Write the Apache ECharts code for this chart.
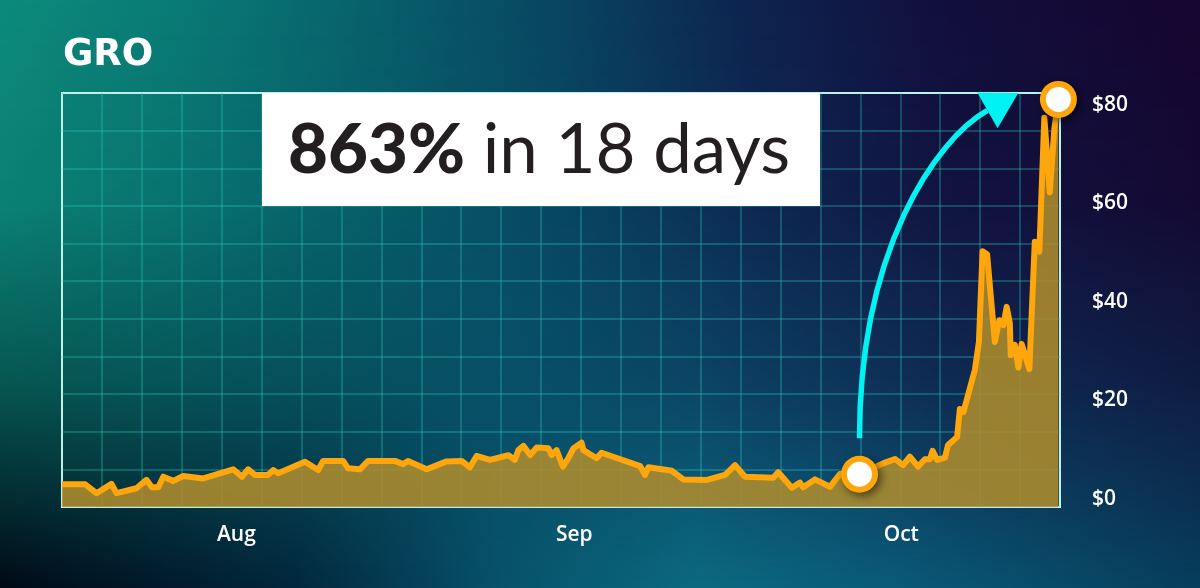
<!DOCTYPE html>
<html>
<head>
<meta charset="utf-8">
<script src="https://cdn.jsdelivr.net/npm/echarts@6/dist/echarts.min.js"></script>
<style>
  html, body { margin: 0; padding: 0; }
  #wrap { position: relative; width: 1200px; height: 588px; overflow: hidden; }
  #bg1, #bg2, #chart { position: absolute; left: 0; top: 0; width: 1200px; height: 588px; }
  #bg1 {
    background: linear-gradient(to right, #010a16 0%, #03283e 25%, #07536c 42%, #0b6a80 58%, #0a5a78 75%, #073e5c 100%);
  }
  #bg2 {
    background: linear-gradient(to right, #0b8b7b 0%, #097a75 15%, #07626c 30%, #084460 47%, #0d2450 62%, #120f3c 78%, #150530 100%);
    -webkit-mask-image: linear-gradient(to bottom, #000 0%, rgba(0,0,0,0.92) 35%, rgba(0,0,0,0.6) 65%, rgba(0,0,0,0) 100%);
    mask-image: linear-gradient(to bottom, #000 0%, rgba(0,0,0,0.92) 35%, rgba(0,0,0,0.6) 65%, rgba(0,0,0,0) 100%);
  }
</style>
</head>
<body>
<div id="wrap">
  <div id="bg1"></div>
  <div id="bg2"></div>
  <div id="chart"></div>
</div>
<script>
// ---- data ----
const dates = [
  '2021-07-16 00:00','2021-07-18 03:00','2021-07-19 04:00','2021-07-20 13:00','2021-07-21 00:00',
  '2021-07-22 20:00','2021-07-23 18:00','2021-07-24 06:00','2021-07-24 20:00','2021-07-25 07:00',
  '2021-07-26 05:00','2021-07-27 03:00','2021-07-28 23:00','2021-07-31 17:00','2021-08-01 12:00',
  '2021-08-02 02:00','2021-08-02 17:00','2021-08-03 22:00','2021-08-04 09:00','2021-08-04 20:00',
  '2021-08-07 07:00','2021-08-08 12:00','2021-08-08 23:00','2021-08-10 19:00','2021-08-11 06:00',
  '2021-08-12 08:00','2021-08-13 02:00','2021-08-15 13:00','2021-08-16 07:00','2021-08-16 18:00',
  '2021-08-18 11:00','2021-08-20 07:00','2021-08-21 16:00','2021-08-22 10:00','2021-08-23 01:00',
  '2021-08-24 06:00','2021-08-25 23:00','2021-08-26 13:00','2021-08-26 21:00','2021-08-27 08:00',
  '2021-08-27 23:00','2021-08-28 13:00','2021-08-29 15:00','2021-08-29 22:00','2021-08-30 09:00',
  '2021-08-30 23:00','2021-08-31 11:00','2021-08-31 22:00','2021-09-01 16:00','2021-09-01 20:00',
  '2021-09-03 01:00','2021-09-03 12:00','2021-09-07 01:00','2021-09-07 12:00','2021-09-07 19:00',
  '2021-09-09 23:00','2021-09-11 00:00','2021-09-13 04:00','2021-09-14 20:00','2021-09-15 18:00',
  '2021-09-16 16:00','2021-09-19 06:00','2021-09-19 17:00','2021-09-20 23:00','2021-09-21 17:00',
  '2021-09-22 00:00','2021-09-23 02:00','2021-09-24 11:00','2021-09-25 09:00','2021-09-27 04:00',
  '2021-09-29 08:00','2021-09-30 10:00','2021-10-01 04:00','2021-10-01 19:00','2021-10-02 13:00',
  '2021-10-03 04:00','2021-10-03 15:00','2021-10-03 21:00','2021-10-04 07:00','2021-10-05 00:00',
  '2021-10-05 07:00','2021-10-06 03:00','2021-10-06 09:00','2021-10-06 17:00','2021-10-07 18:00',
  '2021-10-08 03:00','2021-10-08 11:00','2021-10-08 21:00','2021-10-09 14:00','2021-10-10 00:00',
  '2021-10-10 09:00','2021-10-10 16:00','2021-10-10 23:00','2021-10-11 01:00','2021-10-11 10:00',
  '2021-10-11 18:00','2021-10-12 01:00','2021-10-12 18:00','2021-10-13 06:00','2021-10-13 16:00',
  '2021-10-14 03:00','2021-10-14 15:00','2021-10-15 01:00','2021-10-15 10:00'
];
const prices = [
  4.6, 4.6, 2.8, 4.7, 2.8,
  3.8, 5.5, 4.0, 4.0, 6.15,
  5.3, 6.3, 5.8, 7.65, 6.15,
  7.65, 6.5, 6.5, 7.5, 6.85,
  9.2, 7.5, 9.35, 9.35, 7.85,
  7.65, 9.35, 9.35, 8.7, 9.35,
  7.65, 9.25, 9.35, 8.05, 10.35,
  9.55, 10.5, 9.55, 11.55, 12.4,
  10.55, 12.05, 11.9, 10.55, 11.55,
  8.2, 9.9, 11.9, 13.05, 11.55,
  9.9, 11.0, 8.3, 6.5, 8.05,
  7.35, 5.6, 5.5, 6.5, 8.5,
  6.15, 5.95, 7.05, 3.9, 4.95,
  4.0, 5.6, 4.1, 6.7, 6.65,
  8.85, 9.75, 8.5, 10.2, 8.2,
  9.7, 9.7, 11.4, 9.55, 10.0,
  12.6, 14.2, 19.9, 19.3, 27.8,
  33.5, 51.9, 51.3, 33.5, 37.9,
  36.9, 40.6, 37.3, 30.8, 32.9,
  28.3, 33.1, 28.0, 53.8, 51.8,
  79.0, 63.8, 76.7, 82.7
];
const markedDates = ['2021-09-27 04:00', '2021-10-15 10:00'];
const monthTicks = ['2021-08-01', '2021-09-01', '2021-10-01'];
const monthNames = ['Jan','Feb','Mar','Apr','May','Jun','Jul','Aug','Sep','Oct','Nov','Dec'];
const priceTicks = [0, 20, 40, 60, 80];
const xRange = ['2021-07-16 00:00', '2021-10-15 13:30'];
const yRange = [0, 84];
const ticker = 'GRO';
const headlineBold = '863%';
const headlineRest = 'in 18 days';

// ---- chart ----
const ts = s => echarts.time.parse(s).getTime();
const chart = echarts.init(document.getElementById('chart'), null, { renderer: 'canvas' });
const seriesData = dates.map((d, i) => [ts(d), prices[i]]);
const markedData = markedDates.map(d => [ts(d), prices[dates.indexOf(d)]]);
const gridLineColor = 'rgba(40,205,190,0.40)';
const orange = '#ffa60c';

const option = {
  backgroundColor: 'transparent',
  animation: false,
  grid: {
    left: 62, right: 140, top: 93, bottom: 81,
    show: true, borderColor: '#ffffff', borderWidth: 2, backgroundColor: 'transparent'
  },
  xAxis: [
    {
      type: 'value', gridIndex: 0,
      min: ts(xRange[0]), max: ts(xRange[1]),
      axisLine: { show: false }, axisTick: { show: false }, splitLine: { show: false },
      axisLabel: {
        customValues: monthTicks.map(ts),
        formatter: v => monthNames[new Date(v).getMonth()],
        color: '#ffffff', fontSize: 21, fontFamily: 'Open Sans', fontWeight: 600, margin: 18
      }
    },
    {
      type: 'value', gridIndex: 0, min: 0, max: 25, interval: 1,
      axisLine: { show: false }, axisTick: { show: false }, axisLabel: { show: false },
      splitLine: { show: true, lineStyle: { color: gridLineColor, width: 1.5 } }
    }
  ],
  yAxis: [
    {
      type: 'value', gridIndex: 0, position: 'right',
      min: yRange[0], max: yRange[1],
      axisLine: { show: false }, axisTick: { show: false }, splitLine: { show: false },
      axisLabel: {
        customValues: priceTicks,
        formatter: v => '$' + v,
        color: '#ffffff', fontSize: 21, fontFamily: 'Open Sans', fontWeight: 600,
        margin: 32, verticalAlign: 'bottom', lineHeight: 16
      }
    },
    {
      type: 'value', gridIndex: 0, min: 0, max: 11, interval: 1,
      axisLine: { show: false }, axisTick: { show: false }, axisLabel: { show: false },
      splitLine: { show: true, lineStyle: { color: gridLineColor, width: 1.5 } }
    }
  ],
  series: [
    {
      type: 'line', xAxisIndex: 0, yAxisIndex: 0,
      data: seriesData, showSymbol: false, symbol: 'none',
      lineStyle: { color: orange, width: 6, join: 'round' },
      areaStyle: { color: 'rgba(174,140,46,0.88)', opacity: 1, origin: 'start' },
      z: 3
    },
    {
      type: 'scatter', xAxisIndex: 0, yAxisIndex: 0,
      data: markedData, symbol: 'circle', symbolSize: 37,
      itemStyle: {
        color: orange, opacity: 1,
        shadowBlur: 8, shadowColor: 'rgba(0,0,0,0.55)', shadowOffsetX: 3, shadowOffsetY: 3
      },
      z: 6
    },
    {
      type: 'scatter', xAxisIndex: 0, yAxisIndex: 0,
      data: markedData, symbol: 'circle', symbolSize: 25,
      itemStyle: { color: '#ffffff', opacity: 1 },
      z: 7
    }
  ]
};
chart.setOption(option);

// ---- annotations ----
const S = chart.convertToPixel({ seriesIndex: 0 }, markedData[0]);
const E = chart.convertToPixel({ seriesIndex: 0 }, markedData[1]);
const p0 = [S[0], S[1] - 36];
const p3 = [E[0] - 71, E[1] + 11];
const p1 = [p0[0], p0[1] - 188];
const p2 = [p3[0] - 52, p3[1] + 29.5];
const dir = [0.87, -0.49];
const perp = [0.496, 0.868];
const tip = [p3[0] + dir[0] * 35.5, p3[1] + dir[1] * 35.5];
const b1 = [p3[0] + perp[0] * 20.5, p3[1] + perp[1] * 20.5];
const b2 = [p3[0] - perp[0] * 20.5, p3[1] - perp[1] * 20.5];

chart.setOption({
  graphic: [
    {
      type: 'text', left: 63, top: 37, z: 100,
      style: { text: ticker, fill: '#ffffff', font: 'bold 37px "DejaVu Sans"' }
    },
    {
      type: 'rect', z: 100,
      shape: { x: 262, y: 93, width: 558, height: 113 },
      style: { fill: '#ffffff' }
    },
    {
      type: 'text', z: 101, x: 539, y: 151,
      style: {
        text: '{b|' + headlineBold + '}{r| ' + headlineRest + '}',
        align: 'center', verticalAlign: 'middle',
        rich: {
          b: { fontFamily: 'Lato', fontWeight: 900, fontSize: 69, fill: '#231f20', color: '#231f20' },
          r: { fontFamily: 'Lato', fontWeight: 'normal', fontSize: 69, fill: '#231f20', color: '#231f20' }
        }
      }
    },
    {
      type: 'bezierCurve', z: 100,
      shape: { x1: p0[0], y1: p0[1], cpx1: p1[0], cpy1: p1[1], cpx2: p2[0], cpy2: p2[1], x2: p3[0], y2: p3[1] },
      style: { stroke: '#00f2f2', lineWidth: 5.5, fill: null }
    },
    {
      type: 'polygon', z: 100,
      shape: { points: [tip, b1, b2] },
      style: { fill: '#00f2f2' }
    }
  ]
});
</script>
</body>
</html>
